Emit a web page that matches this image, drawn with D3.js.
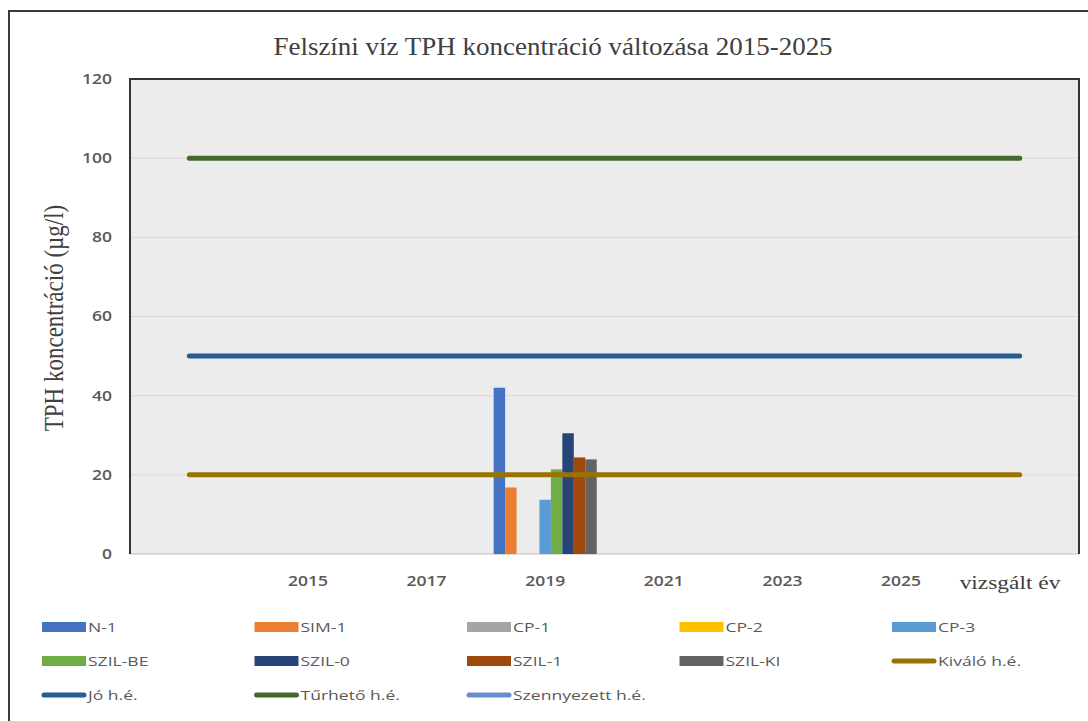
<!DOCTYPE html>
<html>
<head>
<meta charset="utf-8">
<script src="https://cdn.jsdelivr.net/npm/d3@7"></script>
<style>
  body { margin: 0; background: #fff; }
  svg text { font-family: "Liberation Serif", serif; }
</style>
</head>
<body>
<div id="chart"></div>
<script>
// categories on the x axis (first and last are empty slots)
var categories = ["", "2015", "2017", "2019", "2021", "2023", "2025", ""]
var yTicks = [0, 20, 40, 60, 80, 100, 120]

// bar series, measured only in 2019
var barNames = ["N-1", "SIM-1", "CP-1", "CP-2", "CP-3", "SZIL-BE", "SZIL-0", "SZIL-1", "SZIL-KI"]
var barColors = ["#4472C4", "#ED7D31", "#A5A5A5", "#FFC000", "#5B9BD5", "#70AD47", "#264478", "#9E480E", "#636363"]
var barYear = "2019"
var barValues = [42, 16.8, null, null, 13.7, 21.4, 30.5, 24.4, 23.9]

// limit lines (h.é. = határérték)
var lineNames = ["Kiváló h.é.", "Jó h.é.", "Tűrhető h.é.", "Szennyezett h.é."]
var lineColors = ["#997300", "#255E91", "#43682B", "#698ED0"]
var lineValues = [20, 50, 100, null]

var W = 1088, H = 721
var margin = {left: 130, top: 79, right: 1088 - 1079, bottom: 721 - 554}
var width = W - margin.left - margin.right,
    height = H - margin.top - margin.bottom

var svg = d3.select("#chart").append("svg")
  .attr("width", W).attr("height", H)

// outer frame
svg.append("rect")
  .attr("x", 9).attr("y", 11)
  .attr("width", W + 10).attr("height", H + 10)
  .attr("fill", "#fff").attr("stroke", "#3a3a3a").attr("stroke-width", 2)

// title
svg.append("text")
  .attr("transform", "translate(553,55) scale(1.08,1)")
  .attr("text-anchor", "middle")
  .style("font-size", "25px")
  .style("fill", "#404040")
  .text("Felszíni víz TPH koncentráció változása 2015-2025")

var g = svg.append("g")
  .attr("transform", "translate(" + margin.left + "," + margin.top + ")")

var x = d3.scaleBand()
  .domain(d3.range(categories.length))
  .range([0, width])

var y = d3.scaleLinear()
  .domain([0, 120])
  .range([height, 0])

// plot background
g.append("rect")
  .attr("width", width).attr("height", height)
  .attr("fill", "#ececec")

// gridlines
g.append("g")
  .selectAll("line")
  .data(yTicks.slice(1))
  .enter()
  .append("line")
    .attr("x1", 0).attr("x2", width)
    .attr("y1", function (d) { return y(d) })
    .attr("y2", function (d) { return y(d) })
    .attr("stroke", "#d9d9d9").attr("stroke-width", 1)

// bottom axis line
g.append("line")
  .attr("x1", 0).attr("x2", width)
  .attr("y1", height).attr("y2", height)
  .attr("stroke", "#d0d0d0").attr("stroke-width", 1.5)

// Y axis labels
var yAxis = d3.axisLeft(y).tickValues(yTicks).tickSize(0)
var ya = g.append("g").call(yAxis)
ya.select(".domain").remove()
ya.selectAll("text")
  .attr("x", 0)
  .attr("transform", "translate(-18,0) scale(1.25,1)")
  .style("font-family", "'Open Sans', sans-serif")
  .style("font-weight", "600")
  .style("font-size", "14px")
  .style("fill", "#595959")

// X axis labels
var xAxis = d3.axisBottom(x).tickSize(0).tickPadding(22)
  .tickFormat(function (i) { return categories[i] })
var xa = g.append("g")
  .attr("transform", "translate(0," + height + ")")
  .call(xAxis)
xa.select(".domain").remove()
xa.selectAll("text")
  .attr("transform", "scale(1.25,1)")
  .attr("x", function (i) { return 0 })
  .style("font-family", "'Open Sans', sans-serif")
  .style("font-weight", "600")
  .style("font-size", "14px")
  .style("fill", "#595959")

// bars
var xi = d3.scaleBand()
  .domain(barNames)
  .range([0, x.bandwidth()])
  .paddingOuter(0.68)

var barData = barNames.map(function (n, i) { return {name: n, value: barValues[i], color: barColors[i]} })
  .filter(function (d) { return d.value != null })

g.append("g")
  .attr("transform", "translate(" + x(categories.indexOf(barYear)) + ",0)")
  .selectAll("rect")
  .data(barData)
  .enter()
  .append("rect")
    .attr("x", function (d) { return xi(d.name) })
    .attr("width", xi.bandwidth())
    .attr("y", function (d) { return y(d.value) })
    .attr("height", function (d) { return height - y(d.value) })
    .attr("fill", function (d) { return d.color })

// limit lines across all categories
var line = d3.line()
  .x(function (d) { return x(d.i) + x.bandwidth() / 2 })
  .y(function (d) { return y(d.v) })

lineNames.forEach(function (name, k) {
  if (lineValues[k] == null) return
  var pts = categories.map(function (c, i) { return {i: i, v: lineValues[k]} })
  g.append("path")
    .datum(pts)
    .attr("d", line)
    .attr("fill", "none")
    .attr("stroke", lineColors[k])
    .attr("stroke-width", 5)
    .attr("stroke-linecap", "round")
})

// plot frame: left, top, right dark
g.append("path")
  .attr("d", "M0," + height + "V0H" + width + "V" + height)
  .attr("fill", "none").attr("stroke", "#333").attr("stroke-width", 2)

// axis titles
svg.append("text")
  .attr("transform", "translate(63,318) scale(1.15,1) rotate(-90)")
  .attr("text-anchor", "middle")
  .style("font-size", "23px")
  .style("fill", "#404040")
  .text("TPH koncentráció (µg/l)")

svg.append("text")
  .attr("transform", "translate(1010,589) scale(1.3,1)")
  .attr("text-anchor", "middle")
  .style("font-size", "18px")
  .style("fill", "#404040")
  .text("vizsgált év")

// legend
var legendItems = barNames.map(function (n, i) { return {name: n, color: barColors[i], type: "bar"} })
  .concat(lineNames.map(function (n, i) { return {name: n, color: lineColors[i], type: "line"} }))

var leg = svg.append("g")
  .selectAll("g")
  .data(legendItems)
  .enter()
  .append("g")
    .attr("transform", function (d, i) {
      return "translate(" + (42 + (i % 5) * 212.5) + "," + (627 + Math.floor(i / 5) * 34) + ")"
    })

leg.filter(function (d) { return d.type == "bar" })
  .append("rect")
    .attr("x", 0).attr("y", -5)
    .attr("width", 44).attr("height", 10)
    .attr("fill", function (d) { return d.color })

leg.filter(function (d) { return d.type == "line" })
  .append("line")
    .attr("x1", 2).attr("x2", 42)
    .attr("y1", 0).attr("y2", 0)
    .attr("stroke", function (d) { return d.color })
    .attr("stroke-width", 5)
    .attr("stroke-linecap", "round")

leg.append("text")
  .attr("transform", "translate(46,5) scale(1.35,1)")
  .style("font-family", "'Open Sans', sans-serif")
  .style("font-size", "13px")
  .style("fill", "#595959")
  .text(function (d) { return d.name })
</script>
</body>
</html>
